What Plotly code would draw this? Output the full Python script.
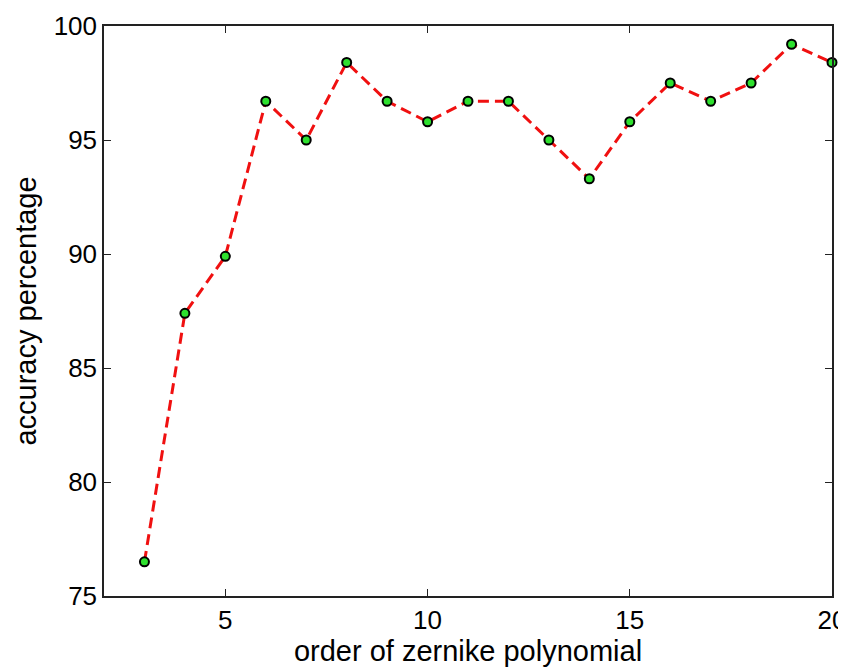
import plotly.graph_objects as go

orders = [3, 4, 5, 6, 7, 8, 9, 10, 11, 12, 13, 14, 15, 16, 17, 18, 19, 20]
accuracy = [76.5, 87.4, 89.9, 96.7, 95.0, 98.4, 96.7, 95.8, 96.7, 96.7,
            95.0, 93.3, 95.8, 97.5, 96.7, 97.5, 99.2, 98.4]
x_ticks = [5, 10, 15, 20]
y_ticks = [75, 80, 85, 90, 95, 100]

fig = go.Figure()
fig.add_trace(go.Scatter(
    x=orders, y=accuracy, mode="lines+markers",
    line=dict(color="#f01010", width=3, dash="11px,6px"),
    marker=dict(symbol="circle", size=9, color="#2ee02e",
                line=dict(color="black", width=2)),
    cliponaxis=False, showlegend=False,
))

font_family = "Liberation Sans, Arial, sans-serif"
fig.update_layout(
    width=838, height=659,
    margin=dict(l=96, r=14, t=18, b=71, autoexpand=False),
    paper_bgcolor="white", plot_bgcolor="white",
    font=dict(family=font_family, size=26, color="black"),
)
fig.update_xaxes(
    range=[2, 20], tickvals=x_ticks, ticks="inside", ticklen=7,
    tickcolor="#222", showline=True, linecolor="#222", linewidth=1.5,
    mirror="ticks", showgrid=False, zeroline=False, automargin=False,
    tickfont=dict(size=26), ticklabeloverflow="allow",
    title=dict(text="order of zernike polynomial", font=dict(size=29), standoff=2),
)
fig.update_yaxes(
    range=[75, 100], tickvals=y_ticks, ticks="inside", ticklen=7,
    tickcolor="#222", showline=True, linecolor="#222", linewidth=1.5,
    mirror="ticks", showgrid=False, zeroline=False, automargin=False,
    tickfont=dict(size=26), ticklabeloverflow="allow",
    title=dict(text="accuracy percentage", font=dict(size=29), standoff=9),
)

fig.write_html("out.html")
